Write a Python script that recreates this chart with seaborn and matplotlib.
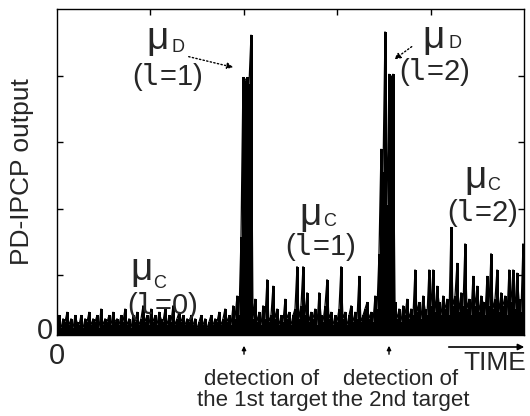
import numpy as np
import pandas as pd
import matplotlib
matplotlib.use("Agg")
import matplotlib.pyplot as plt
import seaborn as sns

# ---- data (PD-IPCP output; arbitrary units, 1 = top of frame) ----
noise_pre = [0.03, 0.06, 0.02, 0.05, 0.04, 0.07, 0.03, 0.05, 0.02, 0.06,
             0.04, 0.03, 0.06, 0.02, 0.05, 0.04, 0.07, 0.03, 0.05, 0.04,
             0.06, 0.02, 0.08, 0.03, 0.05, 0.04, 0.06, 0.03, 0.07, 0.04,
             0.05, 0.03, 0.06, 0.04, 0.08, 0.03, 0.05, 0.02, 0.06, 0.04,
             0.07, 0.03, 0.05, 0.09, 0.04, 0.06, 0.03, 0.08, 0.04, 0.06,
             0.03, 0.07, 0.05, 0.04, 0.08, 0.03, 0.06, 0.04, 0.09, 0.03,
             0.05, 0.07, 0.04, 0.06, 0.03, 0.05, 0.04, 0.06, 0.03, 0.05,
             0.02, 0.04, 0.06, 0.03, 0.05, 0.02, 0.04, 0.06, 0.03, 0.05,
             0.04, 0.07, 0.03, 0.05, 0.08, 0.04, 0.06, 0.03, 0.09, 0.05]
peak1 = [0.12, 0.06, 0.30, 0.79, 0.78, 0.79, 0.77, 0.92, 0.05]
noise_mid = [0.11, 0.04, 0.07, 0.03, 0.09, 0.05, 0.17, 0.04, 0.06, 0.15,
             0.05, 0.08, 0.03, 0.06, 0.04, 0.11, 0.05, 0.07, 0.03, 0.06,
             0.08, 0.21, 0.05, 0.09, 0.21, 0.06, 0.13, 0.04, 0.07, 0.05,
             0.08, 0.03, 0.13, 0.06, 0.04, 0.09, 0.17, 0.05, 0.07, 0.03,
             0.06, 0.04, 0.08, 0.21, 0.05, 0.07, 0.03, 0.06, 0.09, 0.04,
             0.07, 0.05, 0.18, 0.04, 0.06, 0.08, 0.10, 0.05, 0.07, 0.04]
peak2 = [0.12, 0.08, 0.25, 0.57, 0.50, 0.93, 0.40, 0.80, 0.79, 0.80]
noise_post = [0.10, 0.05, 0.08, 0.04, 0.09, 0.06, 0.11, 0.05, 0.08, 0.06,
              0.20, 0.07, 0.10, 0.05, 0.12, 0.08, 0.06, 0.20, 0.09, 0.20,
              0.07, 0.15, 0.10, 0.06, 0.12, 0.08, 0.11, 0.06, 0.33, 0.09,
              0.12, 0.22, 0.07, 0.13, 0.09, 0.28, 0.08, 0.11, 0.06, 0.18,
              0.09, 0.15, 0.07, 0.12, 0.10, 0.06, 0.18, 0.09, 0.25, 0.08,
              0.11, 0.20, 0.07, 0.13, 0.09, 0.12, 0.06, 0.20, 0.10, 0.20,
              0.08, 0.19, 0.11, 0.07, 0.28]

y_label = "PD-IPCP output"
x_label = "TIME"
L = r"$\mathtt{l}$"
annot_mu = [("μ", "D", "(" + L + "=1)"), ("μ", "D", "(" + L + "=2)"),
            ("μ", "C", "(" + L + "=0)"), ("μ", "C", "(" + L + "=1)"),
            ("μ", "C", "(" + L + "=2)")]
detect_labels = ["detection of\nthe 1st target", "detection of\nthe 2nd target"]

signal = noise_pre + peak1 + noise_mid + peak2 + noise_post
df = pd.DataFrame({"t": np.arange(len(signal)), "out": signal})

# ---- style ----
sns.set_style("white")
plt.rcParams["font.family"] = ["Liberation Sans", "DejaVu Sans"]
plt.rcParams["mathtext.fontset"] = "custom"
plt.rcParams["mathtext.rm"] = "Liberation Sans"
plt.rcParams["mathtext.tt"] = "DejaVu Sans Mono"

W, H = 530, 416
fig = plt.figure(figsize=(W / 100, H / 100), dpi=100)
ax = fig.add_axes([57 / W, 1 - 335 / H, (524 - 57) / W, (335 - 9) / H])

def P(x, y):
    return (x / W, 1 - y / H)

ax.vlines(df["t"], 0, df["out"], color="black", lw=1.0, antialiased=False)
sns.lineplot(data=df, x="t", y="out", ax=ax, color="black", lw=0.9)

xmax = 233.5
ax.set_xlim(0, xmax)
ax.set_ylim(0, 1)
ax.set_xlabel("")
ax.set_ylabel("")

ax.set_xticks([0] + [xmax * k / 5 for k in range(1, 5)])
ax.set_xticklabels(["0", "", "", "", ""], fontsize=21)
ax.set_yticks([0.021, 0.184, 0.387, 0.592, 0.794])
ax.set_yticklabels(["0", "", "", "", ""], fontsize=21)
ax.tick_params(axis="both", direction="in", length=4, width=1, color="black")
ax.tick_params(axis="x", bottom=False, top=True, pad=5)
ax.tick_params(axis="y", left=True, right=True, pad=3)
for tk in ax.yaxis.get_major_ticks()[:1]:
    tk.tick1line.set_visible(False)
    tk.tick2line.set_visible(False)
for tk in ax.xaxis.get_major_ticks()[:1]:
    tk.tick2line.set_visible(False)
for s in ax.spines.values():
    s.set_color("black")
    s.set_linewidth(1.0)

# y label
fig.text(*P(22, 172), y_label, rotation=90, ha="center", va="center", fontsize=19)

# mu annotations
mu_pos = [((158, 39), (178, 48), (167, 77)),
          ((434, 38), (455, 43), (434, 72)),
          ((142, 270), (160, 283), (162, 306)),
          ((311, 215), (330, 222), (320, 247)),
          ((476, 178), (494, 186), (482, 213))]
for (mu, sub, par), (pm, ps, pp) in zip(annot_mu, mu_pos):
    fig.text(*P(*pm), mu, ha="center", va="center", fontsize=28)
    fig.text(*P(*ps), sub, ha="center", va="center", fontsize=13)
    fig.text(*P(*pp), par, ha="center", va="center", fontsize=21)

# dotted arrows to the mu_D peaks
ax.annotate("", xy=P(236, 68), xytext=P(186, 56), xycoords="figure fraction",
            textcoords="figure fraction",
            arrowprops=dict(arrowstyle="-|>", color="black", lw=1.0, ls=":",
                            mutation_scale=9))
ax.annotate("", xy=P(392, 61), xytext=P(414, 45), xycoords="figure fraction",
            textcoords="figure fraction",
            arrowprops=dict(arrowstyle="-|>", color="black", lw=1.0, ls=":",
                            mutation_scale=9))

# detection arrows and labels
for ax_x, tx, lab in [(244, 262, detect_labels[0]), (389, 401, detect_labels[1])]:
    ax.annotate("", xy=P(ax_x, 343), xytext=P(ax_x, 357), xycoords="figure fraction",
                textcoords="figure fraction",
                arrowprops=dict(arrowstyle="-|>", color="black", lw=1.0,
                                mutation_scale=6))
    fig.text(*P(tx, 390), lab, ha="center", va="center", fontsize=16,
             linespacing=1.0)

# TIME arrow
ax.annotate("", xy=P(527, 347), xytext=P(446, 347), xycoords="figure fraction",
            textcoords="figure fraction",
            arrowprops=dict(arrowstyle="-|>", color="black", lw=1.2,
                            mutation_scale=9))
fig.text(*P(495, 363), x_label, ha="center", va="center", fontsize=19)

fig.savefig("out.png", dpi=100)
